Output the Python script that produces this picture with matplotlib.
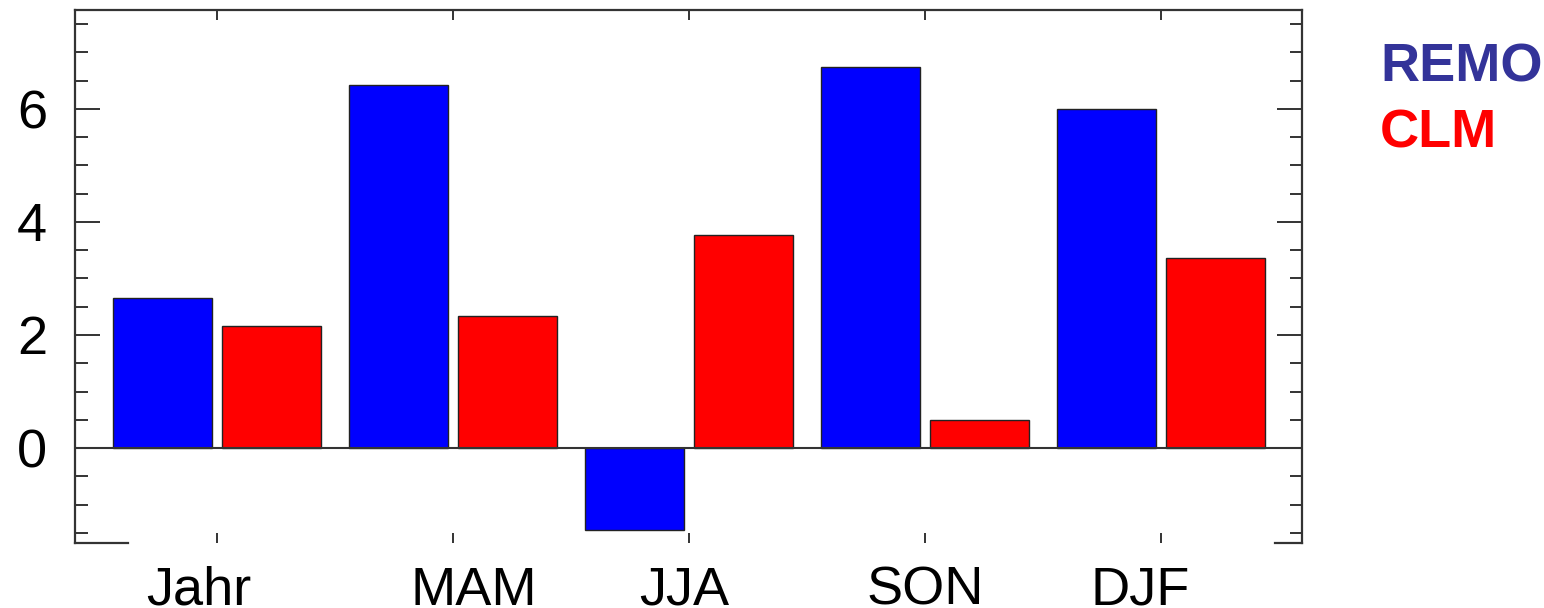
import matplotlib
matplotlib.use("Agg")
import matplotlib.pyplot as plt
import numpy as np

plt.rcParams['font.family'] = ['Liberation Sans', 'DejaVu Sans']

categories = ["Jahr", "MAM", "JJA", "SON", "DJF"]
remo = [2.65, 6.42, -1.45, 6.74, 6.00]
clm = [2.16, 2.34, 3.77, 0.50, 3.36]
label_pos = [-0.076, 1.089, 1.979, 3.0, 3.911]
yticks = [0, 2, 4, 6]

fig = plt.figure(figsize=(15.44, 6.08), dpi=100)
ax = fig.add_axes([75/1544, 1-543/608, 1227/1544, 533/608])

x = np.arange(len(categories))
w = 0.42
ax.bar(x - 0.23, remo, width=w, color='#0000ff', edgecolor='#222222', linewidth=1.0, zorder=2)
ax.bar(x + 0.23, clm, width=w, color='#ff0000', edgecolor='#222222', linewidth=1.0, zorder=2)
ax.axhline(0, color='#333333', lw=1.5, zorder=3)

ax.set_xlim(-0.602, 4.597)
ax.set_ylim(-1.68, 7.75)

ax.set_yticks(yticks)
ax.set_yticklabels([str(v) for v in yticks], fontsize=39)
ax.set_yticks(np.arange(-1.5, 7.6, 0.5), minor=True)
ax.tick_params(axis='y', which='major', direction='in', length=18, width=1.4,
               left=True, right=True, pad=20, color='#333333')
ax.tick_params(axis='y', which='minor', direction='in', length=9, width=1.4,
               left=True, right=True, color='#333333')
ax.set_xticks(x)
ax.set_xticklabels([])
ax.tick_params(axis='x', which='major', direction='in', length=7, width=1.4,
               top=True, bottom=True, color='#333333')

for s in ['left', 'right', 'top']:
    ax.spines[s].set_linewidth(1.6)
    ax.spines[s].set_color('#333333')
ax.spines['bottom'].set_visible(False)
ax.plot([0, 53/1227], [0, 0], transform=ax.transAxes, color='#333333', lw=1.6, clip_on=False)
ax.plot([1200/1227, 1], [0, 0], transform=ax.transAxes, color='#333333', lw=1.6, clip_on=False)

for lab, px in zip(categories, label_pos):
    ax.text(px, -0.1163, lab, transform=ax.get_xaxis_transform(), ha='center',
            va='baseline', fontsize=39)

fig.text(1380/1544, 1-82/608, "REMO", color='#333399', fontsize=39, fontweight='bold',
         ha='left', va='baseline')
fig.text(1380/1544, 1-147/608, "CLM", color='#ff0000', fontsize=39, fontweight='bold',
         ha='left', va='baseline')

fig.savefig("out.png", dpi=100)
